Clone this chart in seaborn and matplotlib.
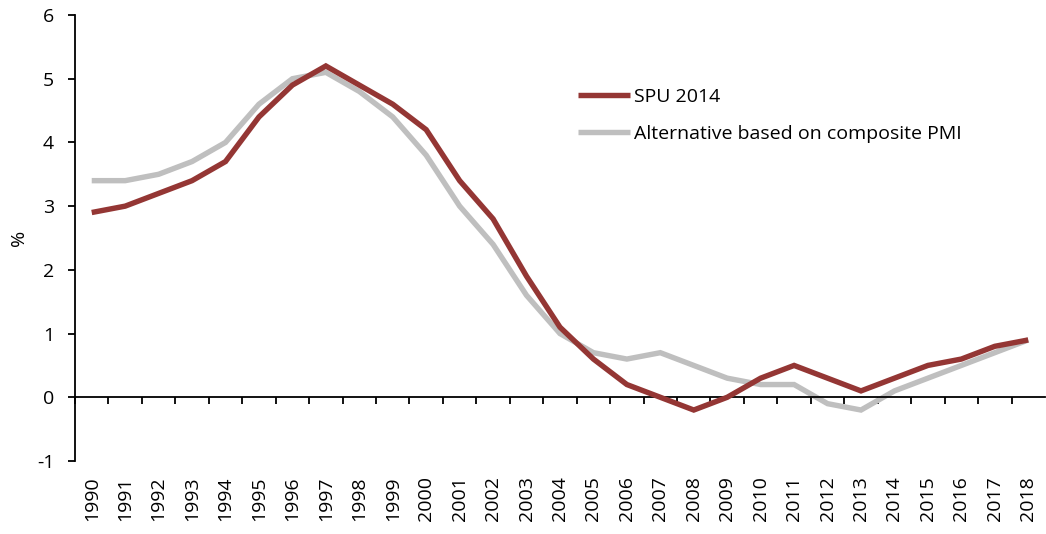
import matplotlib
matplotlib.use("Agg")
import matplotlib.pyplot as plt
import seaborn as sns
import pandas as pd
import numpy as np

years = list(range(1990, 2019))
spu_2014 = [2.9, 3.0, 3.2, 3.4, 3.7, 4.4, 4.9, 5.2, 4.9, 4.6, 4.2, 3.4, 2.8, 1.9, 1.1,
            0.6, 0.2, 0.0, -0.2, 0.0, 0.3, 0.5, 0.3, 0.1, 0.3, 0.5, 0.6, 0.8, 0.9]
alt_pmi = [3.4, 3.4, 3.5, 3.7, 4.0, 4.6, 5.0, 5.1, 4.8, 4.4, 3.8, 3.0, 2.4, 1.6, 1.0,
           0.7, 0.6, 0.7, 0.5, 0.3, 0.2, 0.2, -0.1, -0.2, 0.1, 0.3, 0.5, 0.7, 0.9]
series_names = ["SPU 2014", "Alternative based on composite PMI"]
y_ticks = [-1, 0, 1, 2, 3, 4, 5, 6]

df = pd.DataFrame({
    "year": years * 2,
    "value": spu_2014 + alt_pmi,
    "series": [series_names[0]] * len(years) + [series_names[1]] * len(years),
})

sns.set_style("white")
plt.rcParams["font.family"] = ["Open Sans", "DejaVu Sans"]
plt.rcParams["text.color"] = "black"
plt.rcParams["axes.labelcolor"] = "black"
plt.rcParams["xtick.color"] = "black"
plt.rcParams["ytick.color"] = "black"

fig = plt.figure(figsize=(10.46, 5.34), dpi=100)
ax = fig.add_axes([75 / 1046, (534 - 461) / 534, (1046 - 75) / 1046 - 0.001, (461 - 15) / 534])

sns.lineplot(data=df, x="year", y="value", hue="series", hue_order=series_names,
             palette=["#943634", "#BFBFBF"], linewidth=3.9, ax=ax, legend=True)
for ln in ax.lines:
    ln.set_solid_capstyle("butt")
    ln.set_solid_joinstyle("miter")

lines = ax.lines
if len(lines) >= 2:
    lines[0].set_zorder(3)
    lines[1].set_zorder(2)

ax.set_xlim(1989.5, 2018.5)
ax.set_ylim(-1, 6)
ax.set_yticks(y_ticks)
ax.set_yticklabels([str(t) for t in y_ticks], fontsize=14)
ax.set_ylabel("%", fontsize=14)
ax.yaxis.set_label_coords(-0.048, 0.50)
ax.set_xlabel("")

ax.spines["top"].set_visible(False)
ax.spines["right"].set_visible(False)
ax.spines["bottom"].set_position(("data", 0))
for s in ["left", "bottom"]:
    ax.spines[s].set_color("black")
    ax.spines[s].set_linewidth(1.3)

ax.set_xticks(years)
ax.set_xticklabels([str(y) for y in years], rotation=90, fontsize=14)
ax.set_xticks([y + 0.5 for y in years[:-1]] + [1989.5], minor=True)
ax.tick_params(axis="x", which="major", bottom=True, length=0, pad=57)
ax.tick_params(axis="x", which="minor", bottom=True, length=5, width=1.3,
               direction="out", color="black")
ax.tick_params(axis="y", which="major", left=True, length=5, width=1.3,
               direction="out", color="black", pad=10)

leg = ax.legend(handles=ax.get_legend_handles_labels()[0], labels=series_names,
                loc="upper left", bbox_to_anchor=(0.5185, 0.836), frameon=False, fontsize=14,
                handlelength=2.7, handletextpad=0.2, labelspacing=0.95,
                borderaxespad=0, borderpad=0)
for t in leg.get_texts():
    t.set_color("black")

fig.savefig("out.png", dpi=100)
